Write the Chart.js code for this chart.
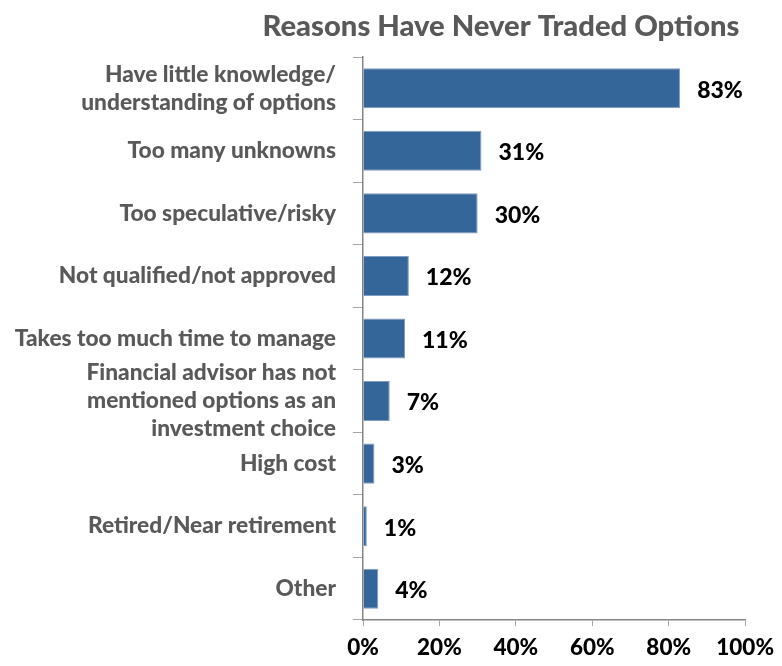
<!DOCTYPE html>
<html><head><meta charset="utf-8">
<script src="https://cdn.jsdelivr.net/npm/chart.js@4/dist/chart.umd.min.js"></script>
<style>html,body{margin:0;padding:0;background:#fff}canvas{display:block}</style>
</head><body><canvas id="c" width="782" height="666"></canvas>
<script>
const chartTitle = 'Reasons Have Never Traded Options';
const categories = [
  ['Have little knowledge/','understanding of options'],
  'Too many unknowns',
  'Too speculative/risky',
  'Not qualified/not approved',
  'Takes too much time to manage',
  ['Financial advisor has not','mentioned options as an','investment choice'],
  'High cost',
  'Retired/Near retirement',
  'Other'
];
const values = [83, 31, 30, 12, 11, 7, 3, 1, 4];
const xTicks = [0, 20, 40, 60, 80, 100];

const FONT = 'Lato, "Open Sans", sans-serif';

const titlePlugin = {
  id: 'customTitle',
  afterDraw(chart) {
    const ctx = chart.ctx;
    ctx.save();
    ctx.font = '900 29.2px ' + FONT;
    ctx.fillStyle = '#595959';
    ctx.textAlign = 'center';
    ctx.textBaseline = 'middle';
    ctx.fillText(chartTitle, 501, 27);
    ctx.restore();
  }
};
const labelPlugin = {
  id: 'valueLabels',
  afterDatasetsDraw(chart) {
    const ctx = chart.ctx;
    const meta = chart.getDatasetMeta(0);
    ctx.save();
    ctx.font = '900 23px ' + FONT;
    ctx.fillStyle = '#000';
    ctx.textAlign = 'left';
    ctx.textBaseline = 'middle';
    meta.data.forEach((bar, i) => {
      ctx.fillText(values[i] + '%', bar.x + 17, bar.y + 2);
    });
    ctx.restore();
  }
};

new Chart(document.getElementById('c'), {
  type: 'bar',
  data: {
    labels: categories,
    datasets: [{
      data: values,
      backgroundColor: '#346699',
      borderColor: '#7f9dc2',
      borderWidth: 1,
      barPercentage: 0.64,
      categoryPercentage: 1
    }]
  },
  options: {
    indexAxis: 'y',
    responsive: false,
    animation: false,
    devicePixelRatio: 1,
    layout: { padding: { top: 57, left: 0, right: 32, bottom: 0 } },
    plugins: { legend: { display: false }, tooltip: { enabled: false }, title: { display: false } },
    scales: {
      y: {
        afterFit(s) { s.width = 363; },
        grid: { display: true, drawOnChartArea: false, drawTicks: true, tickLength: 10, color: '#a6a6a6', offset: true },
        border: { display: true, color: '#868686', width: 1.5 },
        ticks: { color: '#595959', font: { family: FONT, size: 22.7, weight: 900, lineHeight: 1.23 }, padding: 17, autoSkip: false }
      },
      x: {
        min: 0, max: 100,
        afterFit(s) { s.height = 46; },
        afterBuildTicks(s) { s.ticks = xTicks.map(v => ({ value: v })); },
        grid: { display: true, drawOnChartArea: false, drawTicks: true, tickLength: 6, color: '#a6a6a6' },
        border: { display: true, color: '#868686', width: 1.5 },
        ticks: { color: '#000', font: { family: FONT, size: 22.5, weight: 900 }, padding: 8, callback: v => v + '%', maxRotation: 0 }
      }
    }
  },
  plugins: [titlePlugin, labelPlugin]
});
</script></body></html>
